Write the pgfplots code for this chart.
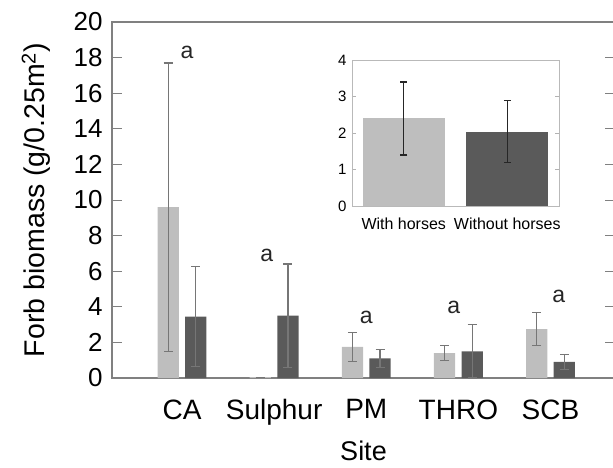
\documentclass[border=0pt]{standalone}
\usepackage{pgfplots}
\pgfplotsset{compat=1.18}
\usepackage{pgfplotstable}
\usepackage{fontspec}
\setmainfont{Liberation Sans}
\definecolor{lightbar}{HTML}{BEBEBE}
\definecolor{darkbar}{HTML}{5A5A5A}
\definecolor{axgray}{HTML}{808080}
\definecolor{errgray}{HTML}{767676}

\pgfplotstableread{
x y e
1 9.6 8.1
2 0.05 0
3 1.75 0.82
4 1.4 0.42
5 2.75 0.93
}\withhorses
\pgfplotstableread{
x y e
1 3.45 2.8
2 3.5 2.9
3 1.1 0.5
4 1.5 1.5
5 0.9 0.42
}\withouthorses
\pgfplotstableread{
x y e
1 2.40 1.0
}\insetwith
\pgfplotstableread{
x y e
2 2.04 0.85
}\insetwithout

\begin{document}
\begin{tikzpicture}
\begin{axis}[
  at={(112pt,-378pt)}, anchor=south west,
  scale only axis, width=503pt, height=356pt,
  xmin=0.24, xmax=5.7, ymin=0, ymax=20,
  ytick={0,2,...,20},
  xtick={1,2,3,4,5},
  xticklabels={CA,Sulphur,PM,THRO,SCB},
  xtick style={draw=none},
  ytick style={axgray, line width=0.8pt},
  major tick length=10pt,
  tick pos=both,
  axis line style={axgray, line width=1.2pt},
  /pgf/number format/assume math mode=true,
  yticklabel style={font=\fontsize{26}{28}\selectfont, xshift=-6pt},
  xticklabel style={font=\fontsize{28}{30}\selectfont, yshift=-8pt},
  xlabel={Site},
  ylabel={Forb biomass (g/0.25m\textsuperscript{2})},
  xlabel style={font=\fontsize{27}{29}\selectfont, yshift=-8pt},
  ylabel style={font=\fontsize{28.5}{30}\selectfont, yshift=16pt},
  ybar, bar width=0.23,
  clip=false,
]
\addplot[fill=lightbar, draw=none, bar shift=-0.15,
  error bars/.cd, y dir=both, y explicit,
  error bar style={errgray, line width=1.2pt},
  error mark options={errgray, line width=1.2pt, mark size=4.5pt, rotate=90}]
  table[x=x, y=y, y error=e] {\withhorses};
\addplot[fill=darkbar, draw=none, bar shift=0.15,
  error bars/.cd, y dir=both, y explicit,
  error bar style={errgray, line width=1.2pt},
  error mark options={errgray, line width=1.2pt, mark size=4.5pt, rotate=90}]
  table[x=x, y=y, y error=e] {\withouthorses};
\begin{scope}[font=\fontsize{23}{25}\selectfont, text=black!85]
\node at (axis cs:1.055,18.3) {a};
\node at (axis cs:1.92,6.9) {a};
\node at (axis cs:3.0,3.4) {a};
\node at (axis cs:3.95,3.95) {a};
\node at (axis cs:5.09,4.6) {a};
\end{scope}
\end{axis}

\begin{axis}[
  at={(352pt,-206pt)}, anchor=south west,
  scale only axis, width=207pt, height=146pt,
  xmin=0.5, xmax=2.5, ymin=0, ymax=4,
  ytick={0,1,2,3,4},
  xtick={1,2},
  xticklabels={With horses,Without horses},
  xtick style={draw=none},
  ytick style={gray!60, line width=0.6pt},
  major tick length=4pt,
  tick pos=both,
  axis line style={gray!55, line width=0.8pt},
  axis background/.style={fill=white},
  /pgf/number format/assume math mode=true,
  yticklabel style={font=\fontsize{15}{17}\selectfont, xshift=-2pt},
  xticklabel style={font=\fontsize{16}{18}\selectfont, yshift=-4pt},
  ybar, bar width=0.79,
]
\addplot[fill=lightbar, draw=none, bar shift=0,
  error bars/.cd, y dir=both, y explicit,
  error bar style={black!85, line width=1.3pt},
  error mark options={black!85, line width=1.3pt, mark size=3.5pt, rotate=90}]
  table[x=x, y=y, y error=e] {\insetwith};
\addplot[fill=darkbar, draw=none, bar shift=0,
  error bars/.cd, y dir=both, y explicit,
  error bar style={black!85, line width=1.3pt},
  error mark options={black!85, line width=1.3pt, mark size=3.5pt, rotate=90}]
  table[x=x, y=y, y error=e] {\insetwithout};
\end{axis}
\pgfresetboundingbox
\path (0pt,0pt) rectangle (613pt,-468pt);
\end{tikzpicture}
\end{document}
